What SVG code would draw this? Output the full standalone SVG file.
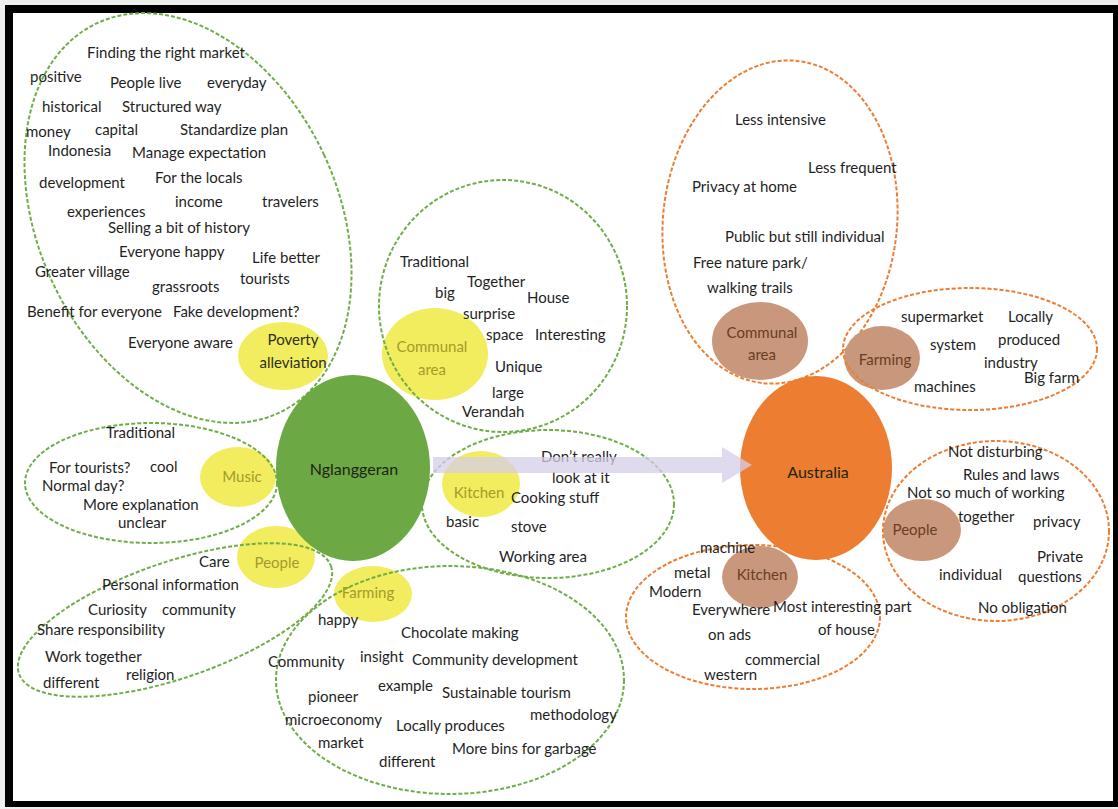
<svg xmlns="http://www.w3.org/2000/svg" width="1118" height="809" viewBox="0 0 1118 809">
  <style>
    text { font-family: Lato, "Open Sans", "Liberation Sans", sans-serif; font-size: 15px; fill: #1f1f1f; }
    .g-dash { fill: none; stroke: #70AD47; stroke-width: 2; stroke-dasharray: 4 2; }
    .o-dash { fill: none; stroke: #ED7D31; stroke-width: 2; stroke-dasharray: 4 2; }
    .yel { fill: #F2ED5E; }
    .tan { fill: #C9977B; }
    .yel-lbl { fill: #A29B2C; text-anchor: middle; }
    .dark-lbl { fill: #2f2e1c; text-anchor: middle; }
    .tan-lbl { fill: #6A3E22; text-anchor: middle; }
    .main-lbl { text-anchor: middle; font-size: 16px; fill: #1c2614; }
  </style>

  <!-- frame -->
  <rect x="0" y="0" width="1118" height="809" fill="#efefef"/>
  <rect x="5" y="5" width="1113" height="802" fill="#000"/>
  <rect x="13" y="13" width="1100" height="788" fill="#fff"/>

  <!-- Nglanggeran: Poverty alleviation -->
  <g id="ngl-poverty">
    <ellipse class="yel" cx="283" cy="356" rx="45" ry="34"/>
    <ellipse class="g-dash" cx="188" cy="218" rx="150" ry="215" transform="rotate(-25 188 218)"/>
    <text class="dark-lbl" x="293" y="345">Poverty</text>
    <text class="dark-lbl" x="293" y="368">alleviation</text>
    <text x="87" y="58">Finding the right market</text>
    <text x="30" y="82">positive</text>
    <text x="110" y="88">People live</text>
    <text x="207" y="88">everyday</text>
    <text x="42" y="112">historical</text>
    <text x="122" y="112">Structured way</text>
    <text x="26" y="137">money</text>
    <text x="95" y="135">capital</text>
    <text x="180" y="135">Standardize plan</text>
    <text x="48" y="156">Indonesia</text>
    <text x="132" y="158">Manage expectation</text>
    <text x="39" y="188">development</text>
    <text x="155" y="183">For the locals</text>
    <text x="175" y="207">income</text>
    <text x="262" y="207">travelers</text>
    <text x="67" y="217">experiences</text>
    <text x="108" y="233">Selling a bit of history</text>
    <text x="119" y="257">Everyone happy</text>
    <text x="252" y="263">Life better</text>
    <text x="35" y="277">Greater village</text>
    <text x="240" y="284">tourists</text>
    <text x="152" y="292">grassroots</text>
    <text x="27" y="317">Benefit for everyone</text>
    <text x="173" y="317">Fake development?</text>
    <text x="128" y="348">Everyone aware</text>
  </g>

  <!-- Nglanggeran: Communal area -->
  <g id="ngl-communal">
    <ellipse class="yel" cx="435" cy="354" rx="53" ry="46"/>
    <ellipse class="g-dash" cx="503" cy="306" rx="124" ry="126"/>
    <text class="yel-lbl" x="432" y="352">Communal</text>
    <text class="yel-lbl" x="432" y="375">area</text>
    <text x="400" y="267">Traditional</text>
    <text x="467" y="287">Together</text>
    <text x="435" y="298">big</text>
    <text x="527" y="303">House</text>
    <text x="463" y="319">surprise</text>
    <text x="486" y="340">space</text>
    <text x="535" y="340">Interesting</text>
    <text x="495" y="372">Unique</text>
    <text x="492" y="398">large</text>
    <text x="462" y="417">Verandah</text>
  </g>

  <!-- Nglanggeran: Music -->
  <g id="ngl-music">
    <ellipse class="yel" cx="238" cy="477" rx="38" ry="30"/>
    <ellipse class="g-dash" cx="151" cy="483" rx="126" ry="60"/>
    <text class="yel-lbl" x="242" y="482">Music</text>
    <text x="106" y="438">Traditional</text>
    <text x="49" y="473">For tourists?</text>
    <text x="150" y="472">cool</text>
    <text x="42" y="491">Normal day?</text>
    <text x="83" y="510">More explanation</text>
    <text x="118" y="528">unclear</text>
  </g>

  <!-- Nglanggeran: People -->
  <g id="ngl-people">
    <ellipse class="yel" cx="276" cy="557" rx="39" ry="31"/>
    <ellipse class="g-dash" cx="175" cy="620" rx="165" ry="58" transform="rotate(-19 175 620)"/>
    <text class="yel-lbl" x="277" y="568">People</text>
    <text x="199" y="567">Care</text>
    <text x="102" y="590">Personal information</text>
    <text x="88" y="615">Curiosity</text>
    <text x="162" y="615">community</text>
    <text x="37" y="635">Share responsibility</text>
    <text x="45" y="662">Work together</text>
    <text x="126" y="680">religion</text>
    <text x="43" y="688">different</text>
  </g>

  <!-- Nglanggeran: Kitchen -->
  <g id="ngl-kitchen">
    <ellipse class="yel" cx="481" cy="484" rx="39" ry="33"/>
    <ellipse class="g-dash" cx="548" cy="504" rx="126" ry="74"/>
    <text class="yel-lbl" x="479" y="498">Kitchen</text>
    <text x="541" y="462">Don’t really</text>
    <text x="552" y="483">look at it</text>
    <text x="511" y="503">Cooking stuff</text>
    <text x="446" y="527">basic</text>
    <text x="511" y="532">stove</text>
    <text x="499" y="562">Working area</text>
  </g>

  <!-- Nglanggeran: Farming -->
  <g id="ngl-farming">
    <ellipse class="yel" cx="373" cy="594" rx="39" ry="28"/>
    <ellipse class="g-dash" cx="450" cy="680" rx="174" ry="114"/>
    <text class="yel-lbl" x="368" y="598">Farming</text>
    <text x="318" y="625">happy</text>
    <text x="401" y="638">Chocolate making</text>
    <text x="268" y="667">Community</text>
    <text x="360" y="662">insight</text>
    <text x="412" y="665">Community development</text>
    <text x="378" y="691">example</text>
    <text x="308" y="702">pioneer</text>
    <text x="442" y="698">Sustainable tourism</text>
    <text x="530" y="720">methodology</text>
    <text x="285" y="725">microeconomy</text>
    <text x="396" y="731">Locally produces</text>
    <text x="318" y="748">market</text>
    <text x="452" y="754">More bins for garbage</text>
    <text x="379" y="767">different</text>
  </g>

  <!-- Australia: Communal area -->
  <g id="aus-communal">
    <ellipse class="tan" cx="760" cy="341" rx="48" ry="39"/>
    <ellipse class="o-dash" cx="780" cy="222" rx="117" ry="162" transform="rotate(6 780 222)"/>
    <text class="tan-lbl" x="762" y="338">Communal</text>
    <text class="tan-lbl" x="762" y="360">area</text>
    <text x="735" y="125">Less intensive</text>
    <text x="808" y="173">Less frequent</text>
    <text x="692" y="192">Privacy at home</text>
    <text x="725" y="242">Public but still individual</text>
    <text x="693" y="268">Free nature park/</text>
    <text x="707" y="293">walking trails</text>
  </g>

  <!-- Australia: Farming -->
  <g id="aus-farming">
    <ellipse class="tan" cx="882" cy="358" rx="38" ry="32"/>
    <ellipse class="o-dash" cx="970" cy="349" rx="127" ry="61"/>
    <text class="tan-lbl" x="885" y="365">Farming</text>
    <text x="901" y="322">supermarket</text>
    <text x="1008" y="322">Locally</text>
    <text x="930" y="350">system</text>
    <text x="998" y="345">produced</text>
    <text x="984" y="368">industry</text>
    <text x="1024" y="383">Big farm</text>
    <text x="914" y="392">machines</text>
  </g>

  <!-- Australia: People -->
  <g id="aus-people">
    <ellipse class="tan" cx="922" cy="530" rx="39" ry="31"/>
    <ellipse class="o-dash" cx="996" cy="531" rx="113" ry="90"/>
    <text class="tan-lbl" x="915" y="535">People</text>
    <text x="948" y="457">Not disturbing</text>
    <text x="963" y="480">Rules and laws</text>
    <text x="907" y="498">Not so much of working</text>
    <text x="958" y="522">together</text>
    <text x="1033" y="527">privacy</text>
    <text x="1037" y="562">Private</text>
    <text x="939" y="580">individual</text>
    <text x="1018" y="582">questions</text>
    <text x="978" y="613">No obligation</text>
  </g>

  <!-- Australia: Kitchen -->
  <g id="aus-kitchen">
    <ellipse class="tan" cx="760" cy="577" rx="38" ry="31"/>
    <ellipse class="o-dash" cx="753" cy="617" rx="127" ry="72"/>
    <text class="tan-lbl" x="762" y="580">Kitchen</text>
    <text x="700" y="553">machine</text>
    <text x="674" y="578">metal</text>
    <text x="649" y="597">Modern</text>
    <text x="692" y="615">Everywhere</text>
    <text x="773" y="612">Most interesting part</text>
    <text x="818" y="635">of house</text>
    <text x="708" y="640">on ads</text>
    <text x="745" y="665">commercial</text>
    <text x="704" y="680">western</text>
  </g>

  <!-- central nodes -->
  <g id="nglanggeran">
    <ellipse cx="353" cy="468" rx="77" ry="93" fill="#6CA844"/>
    <text class="main-lbl" x="354" y="475">Nglanggeran</text>
  </g>
  <g id="australia">
    <ellipse cx="816" cy="468" rx="76" ry="92" fill="#ED7D31"/>
    <text class="main-lbl" x="818" y="478">Australia</text>
  </g>

  <!-- connectors -->
  <g id="connectors">
    <path d="M433,457 L722,457 L722,447 L752,465 L722,483 L722,473 L433,473 Z" fill="#D6CDE8" fill-opacity="0.75"/>
  </g>
</svg>
